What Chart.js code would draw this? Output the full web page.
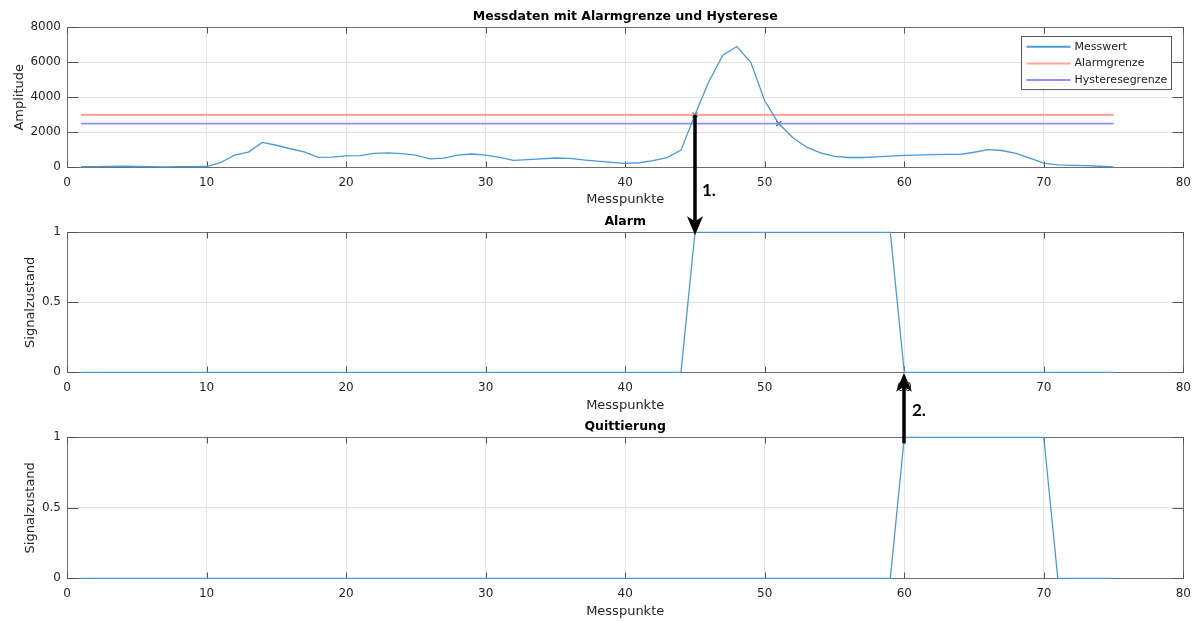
<!DOCTYPE html>
<html>
<head>
<meta charset="utf-8">
<script src="https://cdn.jsdelivr.net/npm/chart.js@4.4.1/dist/chart.umd.min.js"></script>
<style>
html,body{margin:0;padding:0;background:#fff;}
#wrap{position:relative;width:1199px;height:621px;overflow:hidden;background:#fff;}
#wrap canvas{position:absolute;left:0;}
</style>
</head>
<body>
<div id="wrap">
<canvas id="c1" width="1199" height="210" style="top:0px;width:1199px;height:210px"></canvas>
<canvas id="c2" width="1199" height="210" style="top:205px;width:1199px;height:210px"></canvas>
<canvas id="c3" width="1199" height="211" style="top:410px;width:1199px;height:211px"></canvas>
<canvas id="ov" width="1199" height="621" style="top:0px;width:1199px;height:621px;pointer-events:none"></canvas>
</div>
<script>
// ---------- data ----------
const xTicks = [0, 10, 20, 30, 40, 50, 60, 70, 80];
const ampTicks = [0, 2000, 4000, 6000, 8000];
const sigTicks = [0, 0.5, 1];

const messwert = [
  40, 35, 50, 60, 45, 35, 30, 35, 40, 45,
  260, 690, 870, 1420, 1260, 1060, 880, 570, 580, 650,
  670, 800, 820, 780, 690, 480, 530, 700, 760, 700,
  570, 400, 440, 480, 530, 510, 420, 350, 280, 220,
  260, 380, 550, 980, 3000, 4900, 6400, 6900, 6000, 3800,
  2500, 1700, 1150, 820, 620, 560, 560, 600, 640, 680,
  700, 730, 740, 740, 860, 1010, 960, 800, 520, 240,
  140, 115, 95, 60, 30
];
const alarmgrenze = 3000;
const hysteresegrenze = 2500;
const grenzePunkte = [1, 75];

const alarm = [
  0,0,0,0,0,0,0,0,0,0,
  0,0,0,0,0,0,0,0,0,0,
  0,0,0,0,0,0,0,0,0,0,
  0,0,0,0,0,0,0,0,0,0,
  0,0,0,0,1,1,1,1,1,1,
  1,1,1,1,1,1,1,1,1,0,
  0,0,0,0,0,0,0,0,0,0,
  0,0,0,0,0
];
const quittierung = [
  0,0,0,0,0,0,0,0,0,0,
  0,0,0,0,0,0,0,0,0,0,
  0,0,0,0,0,0,0,0,0,0,
  0,0,0,0,0,0,0,0,0,0,
  0,0,0,0,0,0,0,0,0,0,
  0,0,0,0,0,0,0,0,0,1,
  1,1,1,1,1,1,1,1,1,1,
  0,0,0,0,0
];
const markerPunkte = [45, 51];
const pfeilPunkte = [45, 60];
const pfeilTexte = ['1.', '2.'];

// ---------- styling ----------
const FONT = "'DejaVu Sans', 'Liberation Sans', sans-serif";
const BLUE = '#4a9ad8';
const RED = '#ffa3a3';
const PURPLE = '#8f8fff';
const TXT = '#262626';
const GRID = '#e4e4e4';

const toPts = arr => arr.map((v, i) => ({x: i + 1, y: v}));
const hLine = v => grenzePunkte.map(p => ({x: p, y: v}));

const framePlugin = {
  id: 'matlabFrame',
  beforeDatasetsDraw(chart) {
    const {ctx, chartArea: a, scales: {x, y}} = chart;
    ctx.save();
    const L = Math.round(a.left) + 0.5, R = Math.round(a.right) + 0.5;
    const T = Math.round(a.top) + 0.5, B = Math.round(a.bottom) + 0.5;
    ctx.strokeStyle = '#6e6e6e';
    ctx.lineWidth = 1;
    ctx.strokeRect(L, T, R - L, B - T);
    ctx.strokeStyle = '#555';
    ctx.beginPath();
    x.ticks.forEach(t => {
      const px = Math.round(x.getPixelForValue(t.value)) + 0.5;
      ctx.moveTo(px, B); ctx.lineTo(px, B - 6);
      ctx.moveTo(px, T); ctx.lineTo(px, T + 6);
    });
    y.ticks.forEach(t => {
      const py = Math.round(y.getPixelForValue(t.value)) + 0.5;
      ctx.moveTo(L, py); ctx.lineTo(L + 11, py);
      ctx.moveTo(R, py); ctx.lineTo(R - 11, py);
    });
    ctx.stroke();
    ctx.restore();
  }
};

const legendPlugin = {
  id: 'boxLegend',
  afterDatasetsDraw(chart) {
    const {ctx, chartArea: a} = chart;
    const items = chart.data.datasets.filter(d => d.inLegend);
    const w = 150, rowH = 16.7;
    const h = items.length * rowH + 3;
    const x0 = Math.round(a.right - 12 - w) + 0.5;
    const y0 = Math.round(a.top + 8.7) + 0.5;
    ctx.save();
    ctx.fillStyle = '#fff';
    ctx.fillRect(x0, y0, w, h);
    ctx.strokeStyle = '#555';
    ctx.lineWidth = 1;
    ctx.strokeRect(x0, y0, w, h);
    ctx.font = '11px ' + FONT;
    ctx.textBaseline = 'middle';
    ctx.textAlign = 'left';
    items.forEach((d, i) => {
      const yy = y0 + 10.2 + i * rowH;
      ctx.strokeStyle = d.borderColor;
      ctx.lineWidth = 2;
      ctx.beginPath();
      ctx.moveTo(x0 + 5, yy); ctx.lineTo(x0 + 49, yy);
      ctx.stroke();
      ctx.fillStyle = '#222';
      ctx.fillText(d.label, x0 + 53, yy);
    });
    ctx.restore();
  }
};

function makeOptions(cfg) {
  return {
    responsive: false,
    animation: false,
    devicePixelRatio: 1,
    events: [],
    layout: {padding: {left: 0, right: 14, top: 0, bottom: 0}},
    plugins: {
      legend: {display: false},
      tooltip: {enabled: false},
      title: {
        display: true, text: cfg.title, color: '#000', fullSize: false,
        font: {family: FONT, size: 12.5, weight: 'bold', lineHeight: 1.2},
        padding: {top: 9.5, bottom: 2.8}
      }
    },
    scales: {
      x: {
        type: 'linear', min: 0, max: 80,
        afterBuildTicks: s => { s.ticks = xTicks.map(v => ({value: v})); },
        afterFit: s => { s.height = cfg.H - cfg.areaBottom; },
        grid: {color: GRID, lineWidth: 1, drawTicks: false},
        border: {display: false},
        ticks: {padding: 8, color: TXT, maxRotation: 0, autoSkip: false,
                font: {family: FONT, size: 12}, callback: v => String(v)},
        title: {display: true, text: 'Messpunkte', color: TXT,
                font: {family: FONT, size: 13, lineHeight: 1.2},
                padding: {top: 0, bottom: cfg.H - 7.8 - cfg.xTitleY}}
      },
      y: {
        type: 'linear', min: cfg.yMin, max: cfg.yMax,
        afterBuildTicks: s => { s.ticks = cfg.yTicks.map(v => ({value: v})); },
        afterFit: s => { s.width = 67; },
        grid: {color: GRID, lineWidth: 1, drawTicks: false},
        border: {display: false},
        ticks: {padding: 6, color: TXT, font: {family: FONT, size: 12},
                callback: v => String(v)},
        title: {display: true, text: cfg.yTitle, color: TXT,
                font: {family: FONT, size: 13, lineHeight: 1.2},
                padding: {top: cfg.yTitleX - 7.8, bottom: 0}}
      }
    }
  };
}

const lineDefaults = {pointRadius: 0, tension: 0, fill: false, clip: 6};

const ch1 = new Chart(document.getElementById('c1'), {
  type: 'line',
  data: {
    datasets: [
      Object.assign({label: 'Messwert', data: toPts(messwert), borderColor: BLUE, borderWidth: 1.3, inLegend: true}, lineDefaults),
      Object.assign({label: 'Alarmgrenze', data: hLine(alarmgrenze), borderColor: RED, borderWidth: 2.2, inLegend: true}, lineDefaults),
      Object.assign({label: 'Hysteresegrenze', data: hLine(hysteresegrenze), borderColor: PURPLE, borderWidth: 1.7, inLegend: true}, lineDefaults),
      {label: 'Marker', data: markerPunkte.map(p => ({x: p, y: messwert[p - 1]})),
       showLine: false, pointStyle: 'crossRot', pointRadius: 3.5, borderColor: '#555',
       pointBorderColor: '#555', pointBorderWidth: 1.2, clip: 6, inLegend: false}
    ]
  },
  options: makeOptions({title: 'Messdaten mit Alarmgrenze und Hysterese', yTitle: 'Amplitude',
    yMin: 0, yMax: 8000, yTicks: ampTicks, H: 210, areaBottom: 167.3, xTitleY: 200, yTitleX: 20}),
  plugins: [framePlugin, legendPlugin]
});

const ch2 = new Chart(document.getElementById('c2'), {
  type: 'line',
  data: {datasets: [Object.assign({label: 'Alarm', data: toPts(alarm), borderColor: BLUE, borderWidth: 1.3}, lineDefaults)]},
  options: makeOptions({title: 'Alarm', yTitle: 'Signalzustand',
    yMin: 0, yMax: 1, yTicks: sigTicks, H: 210, areaBottom: 167.3, xTitleY: 201, yTitleX: 31}),
  plugins: [framePlugin]
});

const ch3 = new Chart(document.getElementById('c3'), {
  type: 'line',
  data: {datasets: [Object.assign({label: 'Quittierung', data: toPts(quittierung), borderColor: BLUE, borderWidth: 1.3}, lineDefaults)]},
  options: makeOptions({title: 'Quittierung', yTitle: 'Signalzustand',
    yMin: 0, yMax: 1, yTicks: sigTicks, H: 211, areaBottom: 168.3, xTitleY: 202, yTitleX: 31}),
  plugins: [framePlugin]
});

// ---------- annotation arrows (positions from the chart scales) ----------
const OFF = [0, 205, 410];
const ov = document.getElementById('ov').getContext('2d');

function drawArrow(x, yTail, yTip) {
  const dir = Math.sign(yTip - yTail);
  const headLen = 19, halfW = 8, notch = 5;
  ov.save();
  ov.strokeStyle = '#000';
  ov.fillStyle = '#000';
  ov.lineWidth = 3.5;
  ov.beginPath();
  ov.moveTo(x, yTail);
  ov.lineTo(x, yTip - dir * (headLen - notch));
  ov.stroke();
  ov.beginPath();
  ov.moveTo(x, yTip);
  ov.lineTo(x - halfW, yTip - dir * headLen);
  ov.lineTo(x, yTip - dir * (headLen - notch));
  ov.lineTo(x + halfW, yTip - dir * headLen);
  ov.closePath();
  ov.fill();
  ov.restore();
}
function drawLabel(text, x, y) {
  ov.save();
  ov.fillStyle = '#000';
  ov.font = "bold 17px Lato, 'Open Sans', sans-serif";
  ov.textAlign = 'left';
  ov.textBaseline = 'middle';
  ov.fillText(text, x, y);
  ov.restore();
}

// Arrow 1: from the alarm crossing in the top chart down to the alarm signal
const a1x = Math.round(ch1.scales.x.getPixelForValue(pfeilPunkte[0]));
const a1tail = ch1.scales.y.getPixelForValue(messwert[pfeilPunkte[0] - 1]) + OFF[0];
const a1tip = ch2.chartArea.top + OFF[1] + 3;
drawArrow(a1x, a1tail, a1tip);
drawLabel(pfeilTexte[0], a1x + 7, a1tip - 45);

// Arrow 2: from the acknowledgement up to the alarm reset
const a2x = Math.round(ch2.scales.x.getPixelForValue(pfeilPunkte[1]));
const a2tail = ch3.chartArea.top + OFF[2] + 6;
const a2tip = ch2.chartArea.bottom + OFF[1] + 0.5;
drawArrow(a2x, a2tail, a2tip);
drawLabel(pfeilTexte[1], a2x + 8, a2tip + 38);
</script>
</body>
</html>
